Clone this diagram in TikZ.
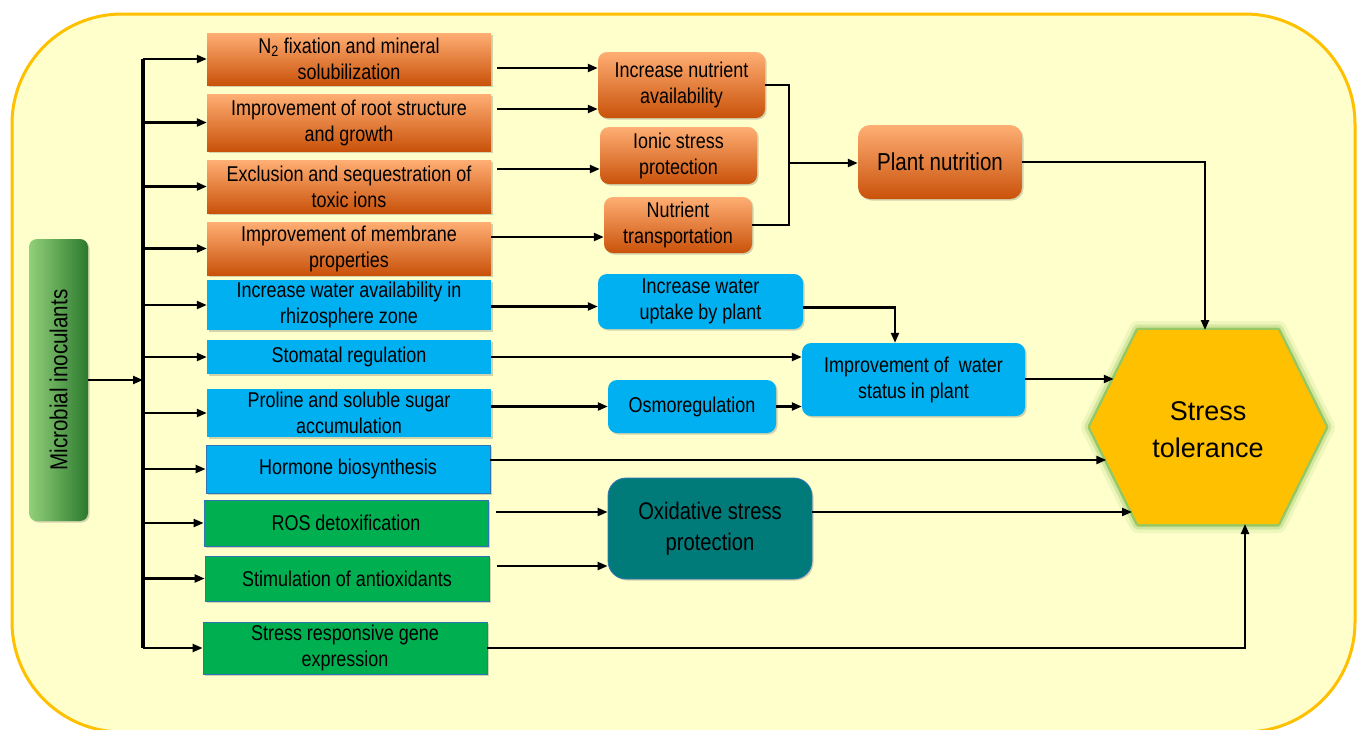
\documentclass[tikz,border=0pt]{standalone}
\usepackage{fontspec}
\setmainfont{Liberation Sans}[FakeStretch=0.84]
\newfontfamily\widefont{Liberation Sans}
\usetikzlibrary{arrows.meta,shadows,calc}
\definecolor{bgyel}{HTML}{FFFFCC}
\definecolor{bordyel}{HTML}{FFC000}
\definecolor{orL}{HTML}{FFAE74}
\definecolor{orM}{HTML}{F7801F}
\definecolor{orD}{HTML}{C9520A}
\definecolor{blu}{HTML}{00B0F0}
\definecolor{grn}{HTML}{00B050}
\definecolor{teal}{HTML}{007B7A}
\definecolor{edgeblue}{HTML}{2E75B6}
\definecolor{gL}{HTML}{92D07A}
\definecolor{gD}{HTML}{2C7A2E}
\definecolor{glow}{HTML}{7DBA4A}
\definecolor{hexfill}{HTML}{FFC000}
\begin{document}
\begin{tikzpicture}[x=1pt,y=-1pt,
  shd/.style={drop shadow={shadow xshift=1.5pt,shadow yshift=-1.5pt,opacity=0.25,fill=black!70}},
  basebox/.style={inner sep=0pt,align=center,font=\fontsize{21.4}{26}\selectfont,shd},
  obox/.style={basebox,top color=orL,middle color=orM,bottom color=orD},
  orbox/.style={obox,rounded corners=9pt},
  bbox/.style={basebox,fill=blu},
  bboxe/.style={basebox,fill=blu,draw=edgeblue,line width=0.8pt},
  gbox/.style={basebox,fill=grn,draw=edgeblue,line width=0.8pt},
  brbox/.style={basebox,fill=blu,rounded corners=9pt},
  arr/.style={line width=2.2pt,-{Triangle[length=10pt,width=8pt]}},
  ln/.style={line width=2.2pt},
  bus/.style={line width=4pt}
]
\useasboundingbox (0,0) rectangle (1361,729);
\clip (0,0) rectangle (1361,729);
\fill[white] (0,0) rectangle (1361,729);
\draw[line width=3pt,draw=bordyel,fill=bgyel,rounded corners=110pt] (12,14) rectangle (1355,732);

% inoculants
\node[basebox,left color=gL,right color=gD,rounded corners=8pt,minimum width=59pt,minimum height=282pt] (inoc) at (58.5,380) {};
\node[rotate=90,font=\fontsize{24.5}{28}\selectfont] (inoctext) at (inoc.center) {Microbial inoculants};

% left column
\node[obox,minimum width=284pt,minimum height=52pt] (b1) at (349,59) {N\textsubscript{2} fixation and mineral\\solubilization};
\node[obox,minimum width=284pt,minimum height=57pt] (b2) at (349,122.5) {Improvement of root structure\\and growth};
\node[obox,minimum width=284pt,minimum height=53pt] (b3) at (349,186.5) {Exclusion and sequestration of\\toxic ions};
\node[obox,minimum width=284pt,minimum height=53pt] (b4) at (349,248.5) {Improvement of membrane\\properties};
\node[bbox,minimum width=284pt,minimum height=50pt] (b5) at (349,305) {Increase water availability in\\rhizosphere zone};
\node[bbox,minimum width=284pt,minimum height=34pt] (b6) at (349,357) {Stomatal regulation};
\node[bbox,minimum width=284pt,minimum height=48pt] (b7) at (349,413) {Proline and soluble sugar\\accumulation};
\node[bboxe,minimum width=284pt,minimum height=48pt] (b8) at (348,469) {Hormone biosynthesis};
\node[gbox,minimum width=284pt,minimum height=46pt] (b9) at (346,523) {ROS detoxification};
\node[gbox,minimum width=284pt,minimum height=45pt] (b10) at (347,578.5) {Stimulation of antioxidants};
\node[gbox,minimum width=284pt,minimum height=52pt] (b11) at (345,648) {Stress responsive gene\\expression};

% middle column
\node[orbox,minimum width=167pt,minimum height=66pt] (nut) at (681.5,85) {Increase nutrient\\availability};
\node[orbox,minimum width=157pt,minimum height=57pt] (ion) at (678.5,155.5) {Ionic stress\\protection};
\node[orbox,minimum width=148pt,minimum height=56pt] (tra) at (678,225) {Nutrient\\transportation};
\node[orbox,rounded corners=12pt,minimum width=164pt,minimum height=74pt,font=\fontsize{24.5}{28}\selectfont] (pn) at (940,162) {Plant nutrition};
\node[brbox,minimum width=205pt,minimum height=55pt] (wup) at (700.5,301.5) {Increase water\\uptake by plant};
\node[brbox,minimum width=223pt,minimum height=73pt] (wst) at (913.5,379.5) {Improvement of\ \ water\\status in plant};
\node[brbox,minimum width=168pt,minimum height=53pt] (osm) at (692,406.5) {Osmoregulation};
\node[basebox,fill=teal,draw=edgeblue,line width=0.8pt,rounded corners=18pt,minimum width=204pt,minimum height=101pt,font=\fontsize{24}{31}\selectfont] (oxi) at (710,528.5) {Oxidative stress\\protection};

% hexagon
\coordinate (hl) at (1090,427);
\coordinate (htl) at (1138,330);
\coordinate (htr) at (1278,330);
\coordinate (hr) at (1326,427);
\coordinate (hbr) at (1278,524);
\coordinate (hbl) at (1138,524);
\draw[glow,opacity=0.12,line width=18pt,line join=round] (hl)--(htl)--(htr)--(hr)--(hbr)--(hbl)--cycle;
\draw[glow,opacity=0.25,line width=11pt,line join=round] (hl)--(htl)--(htr)--(hr)--(hbr)--(hbl)--cycle;
\draw[glow,opacity=0.7,line width=5pt,line join=round] (hl)--(htl)--(htr)--(hr)--(hbr)--(hbl)--cycle;
\fill[hexfill] (hl)--(htl)--(htr)--(hr)--(hbr)--(hbl)--cycle;
\node[align=center,font=\widefont\fontsize{27}{37}\selectfont] (st) at (1208,430) {Stress\\tolerance};

% bus
\coordinate (busx) at (143,0);
\draw[bus] (busx |- b1.west) -- (busx |- b11.west);
\draw[arr] (inoc.east) -- (inoc.east -| busx);
\foreach \b in {b1,b2,b3,b4,b5,b6,b7,b8,b9,b10,b11}{
  \draw[arr] (busx |- \b.west) -- (\b.west);
}

% left to middle
\coordinate (n1) at ([yshift=17pt]nut.west);
\coordinate (n2) at ([yshift=-24pt]nut.west);
\coordinate (n3) at ([yshift=-13.5pt]ion.west);
\coordinate (n4) at ([yshift=-12pt]tra.west);
\draw[arr] ([xshift=6pt]b1.east |- n1) -- (n1);
\draw[arr] ([xshift=6pt]b2.east |- n2) -- (n2);
\draw[arr] ([xshift=6pt]b3.east |- n3) -- (n3);
\draw[arr] (b4.east |- n4) -- (n4);

% bracket to plant nutrition
\coordinate (brk) at (789,163);
\draw[ln] (nut.east) -| (brk) |- (tra.east);
\draw[arr] (brk) -- (pn.west |- brk);

% water
\coordinate (w1) at ([yshift=-5pt]wup.west);
\draw[arr] (b5.east |- w1) -- (w1);
\coordinate (w2) at ([xshift=-18.5pt]wst.north);
\draw[arr] ([yshift=-6pt]wup.east) -| (w2);
\draw[arr] (b6.east) -- (b6.east -| wst.west);
\draw[arr] (b7.east |- osm.west) -- (osm.west);
\draw[arr] (osm.east) -- (osm.east -| wst.west);

% oxidative
\coordinate (o1) at ([yshift=16.5pt]oxi.west);
\coordinate (o2) at ([yshift=-37.5pt]oxi.west);
\draw[arr] ([xshift=8pt]b9.east |- o1) -- (o1);
\draw[arr] ([xshift=8pt]b10.east |- o2) -- (o2);

% to stress tolerance
\coordinate (e0) at (1205,330);
\coordinate (e1) at ($(hl)!0.495!(htl)$);
\coordinate (e2) at ($(hl)!0.34!(hbl)$);
\coordinate (e3) at ($(hl)!0.876!(hbl)$);
\coordinate (e4) at (1245,524);
\draw[arr] (pn.east) -| (e0);
\draw[arr] (wst.east |- e1) -- (e1);
\draw[arr] (b8.east |- e2) -- (e2);
\draw[arr] (oxi.east |- e3) -- (e3);
\draw[arr] (b11.east) -| (e4);
\end{tikzpicture}
\end{document}
